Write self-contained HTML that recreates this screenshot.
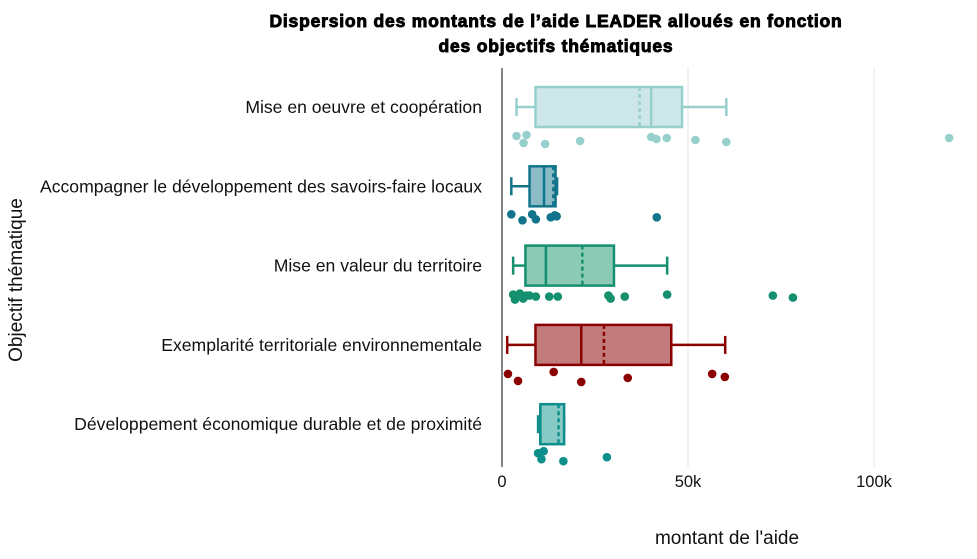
<!DOCTYPE html>
<html><head><meta charset="utf-8"><style>
body{margin:0;background:#fff;}
svg text{font-family:"Liberation Sans",Arial,sans-serif;}
</style></head><body>
<svg id="chart" width="977" height="554" xmlns="http://www.w3.org/2000/svg">
<text x="556" y="27" text-anchor="middle" font-size="17.5" font-weight="bold" stroke="#000" stroke-width="0.9" letter-spacing="0.8">Dispersion des montants de l’aide LEADER alloués en fonction</text>
<text x="556" y="52" text-anchor="middle" font-size="17.5" font-weight="bold" stroke="#000" stroke-width="0.9" letter-spacing="0.8">des objectifs thématiques</text>
<g id="grid"></g>
<line x1="502" y1="68" x2="502" y2="467" stroke="#333" stroke-width="1.2"/>
<g id="ticks"></g>
<g id="cats"></g>
<g id="marks"></g>
<text x="727" y="544" text-anchor="middle" font-size="19" fill="#111">montant de l'aide</text>
<text transform="translate(22,280) rotate(-90)" text-anchor="middle" font-size="19" fill="#111">Objectif thématique</text>
</svg>
<script>
const categories=["Mise en oeuvre et coopération","Accompagner le développement des savoirs-faire locaux","Mise en valeur du territoire","Exemplarité territoriale environnementale","Développement économique durable et de proximité"];
const whiskerLow=[3.9,2.5,3.0,1.4,9.7];
const q1=[9.0,7.4,6.3,9.0,10.3];
const median=[40.1,11.3,11.8,21.3,10.3];
const mean=[37.0,13.8,21.6,27.4,15.2];
const q3=[48.4,14.4,30.1,45.5,16.7];
const whiskerHigh=[60.3,14.8,44.4,60.0,16.7];
const points=[
 [3.9,6.6,5.8,11.6,21,40.1,41.5,44.3,52,60.3,120.2],
 [2.5,5.5,8.1,9.1,13.1,14.2,14.7,41.6],
 [3,4.8,6.5,7.4,3.5,5.7,9.1,12.7,15,28.6,29.2,33,44.4,72.8,78.2],
 [1.6,4.3,13.9,21.3,33.8,56.5,59.9],
 [9.7,11.2,10.6,16.5,28.2]];
const pointJitter=[
 [-2,-3,5,6,3,-1,1,0,2,4,0],
 [-3,3,-3,2,0,-2,-1,0],
 [-2,-3,-1,-1,3,2,0,0,0,-1,2,0,-2,-1,1],
 [-2,5,-4,6,2,-2,1],
 [-2,-4,4,6,2]];
const xTicks=[0,50,100];
const xTickLabels=["0","50k","100k"];
const strokes=["#96cfcc","#12748a","#14906e","#8b0000","#0e8f8c"];
const fills=["#cde6e7","#8bbcc6","#8bcab5","#c27b7b","#86c9c5"];
const x=v=>502+v*3.72;
const yc=i=>107+i*79.3;
const NS="http://www.w3.org/2000/svg";
function mk(tag,attrs,parent){const e=document.createElementNS(NS,tag);for(const k in attrs)e.setAttribute(k,attrs[k]);parent.appendChild(e);return e;}
const grid=document.getElementById('grid'),ticks=document.getElementById('ticks'),cats=document.getElementById('cats'),marks=document.getElementById('marks');
xTicks.forEach((t,i)=>{
 if(t>0){const g=mk('line',{x1:x(t),x2:x(t),y1:68,y2:467,stroke:'#e5e5e5','stroke-width':1},grid);
 
 }
 const l=mk('text',{x:x(t),y:487,'text-anchor':'middle','font-size':16.5,fill:'#111'},ticks);
 l.textContent=xTickLabels[i];
 
 
});
categories.forEach((c,i)=>{
 const cy=yc(i),s=strokes[i];
 const t=mk('text',{x:482,y:cy+6,'text-anchor':'end','font-size':17.6,fill:'#111'},cats);
 t.textContent=c;
 
 
 const g=mk('g',{},marks);
 
 
 const h=20;
 mk('line',{x1:x(whiskerLow[i]),x2:x(q1[i]),y1:cy,y2:cy,stroke:s,'stroke-width':2.5},g);
 mk('line',{x1:x(q3[i]),x2:x(whiskerHigh[i]),y1:cy,y2:cy,stroke:s,'stroke-width':2.5},g);
 mk('line',{x1:x(whiskerLow[i]),x2:x(whiskerLow[i]),y1:cy-9,y2:cy+9,stroke:s,'stroke-width':2.5},g);
 mk('line',{x1:x(whiskerHigh[i]),x2:x(whiskerHigh[i]),y1:cy-9,y2:cy+9,stroke:s,'stroke-width':2.5},g);
 mk('rect',{x:x(q1[i]),y:cy-h,width:x(q3[i])-x(q1[i]),height:2*h,fill:fills[i],stroke:s,'stroke-width':2.5},g);
 mk('line',{x1:x(median[i]),x2:x(median[i]),y1:cy-h,y2:cy+h,stroke:s,'stroke-width':2.5},g);
 mk('line',{x1:x(mean[i]),x2:x(mean[i]),y1:cy-h,y2:cy+h,stroke:s,'stroke-width':2.5,'stroke-dasharray':'4,3'},g);
 points[i].forEach((p,j)=>{
  const d=mk('circle',{cx:x(p),cy:cy+31+pointJitter[i][j],r:4.3,fill:s},g);
  
  
 });
});
</script>
</body></html>
